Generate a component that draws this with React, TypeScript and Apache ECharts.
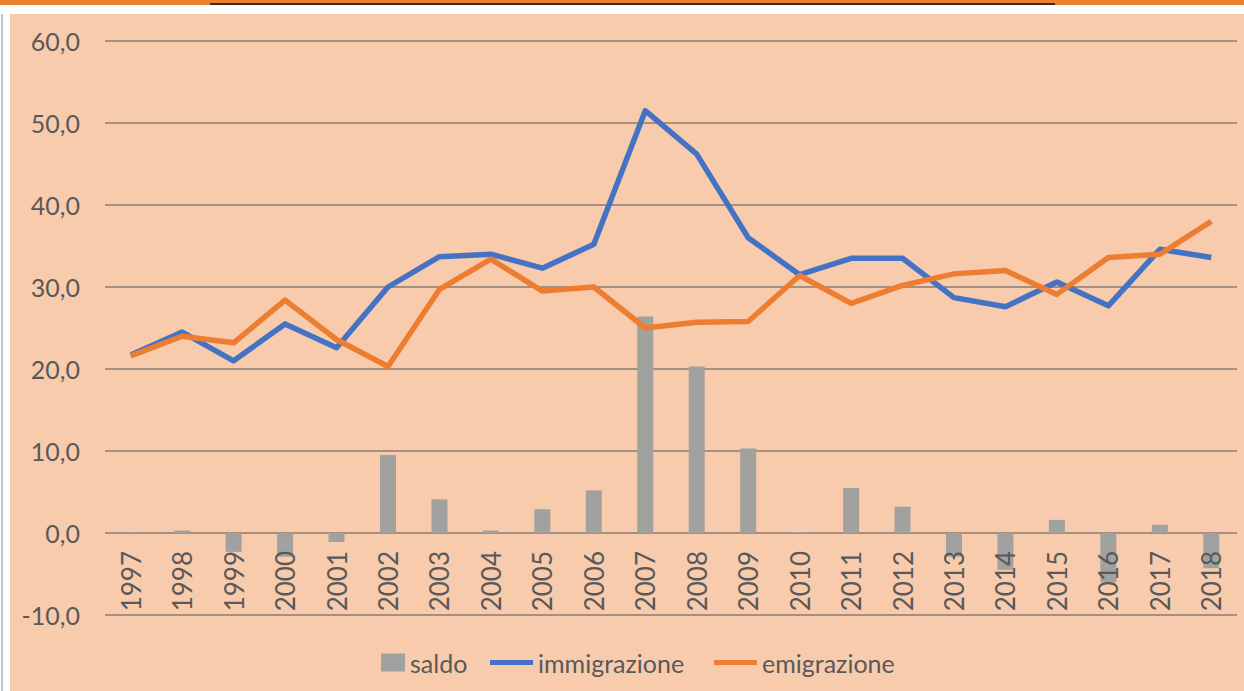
import React, { useEffect, useRef } from "react";
import * as echarts from "echarts";

const years = ["1997","1998","1999","2000","2001","2002","2003","2004","2005","2006","2007","2008","2009","2010","2011","2012","2013","2014","2015","2016","2017","2018"];
const saldo = [0.1, 0.3, -2.3, -2.9, -1.1, 9.5, 4.1, 0.3, 2.9, 5.2, 26.4, 20.3, 10.3, 0.1, 5.5, 3.2, -2.9, -4.5, 1.6, -6.0, 1.0, -4.3];
const immigrazione = [21.7, 24.5, 21.0, 25.5, 22.6, 30.0, 33.7, 34.0, 32.3, 35.2, 51.5, 46.2, 36.0, 31.5, 33.5, 33.5, 28.7, 27.6, 30.6, 27.7, 34.6, 33.6];
const emigrazione = [21.6, 24.0, 23.2, 28.4, 23.6, 20.3, 29.7, 33.4, 29.5, 30.0, 25.0, 25.7, 25.8, 31.4, 28.0, 30.2, 31.6, 32.0, 29.1, 33.6, 34.0, 38.0];
const yTicks = { min: -10, max: 60, interval: 10 };

const FONT = "Lato, 'Open Sans', sans-serif";
const TXT = "#595959";

export default function App() {
  const ref = useRef<HTMLDivElement>(null);
  useEffect(() => {
    if (!ref.current) return;
    const chart = echarts.init(ref.current, null, { renderer: "svg" });
    const legendText = { color: TXT, fontSize: 25, fontFamily: FONT };
    const gridTop = 41;
    const gridBottomY = 615;
    const zeroOffset = ((gridBottomY - gridTop) / (yTicks.max - yTicks.min)) * (0 - yTicks.min);
    chart.setOption({
      animation: false,
      backgroundColor: "#ffffff",
      graphic: [
        { type: "rect", shape: { x: 10, y: 14, width: 1234, height: 677 }, style: { fill: "#f8cbad" }, z: -10 },
        { type: "rect", shape: { x: 0, y: 0, width: 1244, height: 5 }, style: { fill: "#e9822f" }, z: -10 },
        { type: "line", shape: { x1: 210, y1: 4, x2: 1055, y2: 4 }, style: { stroke: "#3b2b20", lineWidth: 2 }, z: -9 },
        { type: "line", shape: { x1: 2, y1: 14, x2: 2, y2: 691 }, style: { stroke: "#b9c4cc", lineWidth: 2 }, z: -9 },
      ],
      grid: { left: 105, right: 7, top: gridTop, bottom: 691 - gridBottomY, containLabel: false },
      legend: [
        { data: ["saldo"], left: 381, top: 650, icon: "rect", itemWidth: 24, itemHeight: 18, textStyle: legendText, padding: 0 },
        { data: ["immigrazione"], left: 490, top: 650, icon: "rect", itemWidth: 43, itemHeight: 5, textStyle: legendText, padding: 0 },
        { data: ["emigrazione"], left: 714, top: 650, icon: "rect", itemWidth: 43, itemHeight: 5, textStyle: legendText, padding: 0 },
      ],
      xAxis: {
        type: "category",
        data: years,
        z: 5,
        offset: -zeroOffset,
        axisLine: { show: false, onZero: false },
        axisTick: { show: false },
        axisLabel: { rotate: 90, margin: 18, color: TXT, fontSize: 26, fontFamily: FONT },
      },
      yAxis: {
        type: "value",
        min: yTicks.min,
        max: yTicks.max,
        interval: yTicks.interval,
        axisLine: { show: false },
        axisTick: { show: false },
        splitLine: { lineStyle: { color: "#8a7b72", width: 1.5 } },
        axisLabel: {
          margin: 25,
          color: TXT,
          fontSize: 25,
          fontFamily: FONT,
          formatter: (v: number) => v.toFixed(1).replace(".", ","),
        },
      },
      series: [
        { name: "saldo", type: "bar", data: saldo, barWidth: 16, itemStyle: { color: "#a1a1a0" } },
        { name: "immigrazione", type: "line", data: immigrazione, symbol: "none", lineStyle: { color: "#4472c4", width: 5.5, join: "round" }, itemStyle: { color: "#4472c4" } },
        { name: "emigrazione", type: "line", data: emigrazione, symbol: "none", lineStyle: { color: "#ed7d31", width: 5.5, join: "round" }, itemStyle: { color: "#ed7d31" } },
      ],
    });
    return () => chart.dispose();
  }, []);
  return <div ref={ref} style={{ position: "fixed", left: 0, top: 0, width: 1244, height: 691 }} />;
}
